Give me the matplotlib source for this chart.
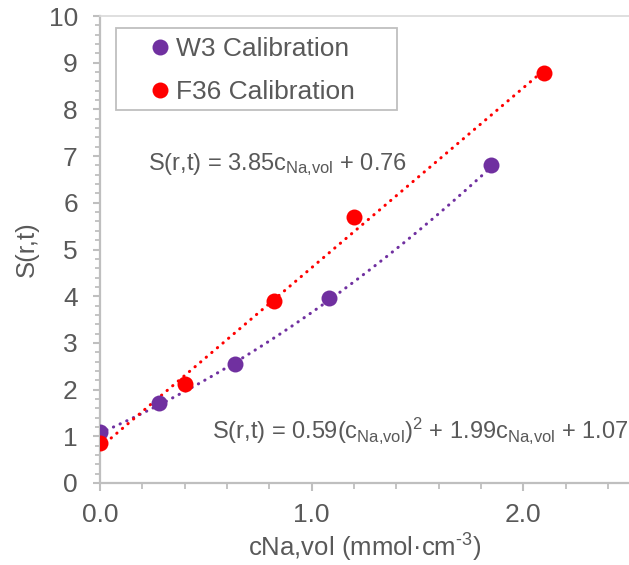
import matplotlib
matplotlib.use("Agg")
import matplotlib.pyplot as plt
import numpy as np
from matplotlib.ticker import MultipleLocator, FormatStrFormatter
from matplotlib.patches import Rectangle

plt.rcParams['font.family'] = ['Liberation Sans', 'DejaVu Sans']
plt.rcParams['mathtext.fontset'] = 'custom'
plt.rcParams['mathtext.rm'] = 'Liberation Sans'
plt.rcParams['mathtext.it'] = 'Liberation Sans:italic'
plt.rcParams['mathtext.bf'] = 'Liberation Sans:bold'

# Data
w3_x = [0.0, 0.28, 0.64, 1.08, 1.85]
w3_y = [1.09, 1.72, 2.54, 3.97, 6.80]
f36_x = [0.0, 0.40, 0.82, 1.20, 2.10]
f36_y = [0.86, 2.11, 3.89, 5.69, 8.77]
w3_fit = [0.59, 1.99, 1.07]   # quadratic coefficients
f36_fit = [3.85, 0.76]        # linear coefficients
labels = ["W3 Calibration", "F36 Calibration"]

purple = "#7030A0"
red = "#FF0000"
gray = "#595959"
spine = "#BFBFBF"

W, H = 629, 565
fig = plt.figure(figsize=(6.29, 5.65), dpi=100)
ax = fig.add_axes([100/W, 1-483/H, 529/W, (483-16)/H])

xs_w = np.linspace(min(w3_x), max(w3_x), 200)
xs_f = np.linspace(min(f36_x), max(f36_x), 200)
ax.plot(xs_w, np.polyval(w3_fit, xs_w), color=purple, lw=2.2,
        linestyle=(0, (0.1, 2.3)), dash_capstyle='round', zorder=2)
ax.plot(xs_f, np.polyval(f36_fit, xs_f), color=red, lw=2.2,
        linestyle=(0, (0.1, 2.3)), dash_capstyle='round', zorder=2)
ax.plot(w3_x, w3_y, 'o', color=purple, ms=11.5, mec='none', label=labels[0], zorder=3)
ax.plot(f36_x, f36_y, 'o', color=red, ms=11.5, mec='none', label=labels[1], zorder=3)

ax.set_xlim(0, 2.5)
ax.set_ylim(0, 10)
ax.xaxis.set_major_locator(MultipleLocator(1.0))
ax.xaxis.set_minor_locator(MultipleLocator(0.2))
ax.yaxis.set_major_locator(MultipleLocator(1))
ax.yaxis.set_minor_locator(MultipleLocator(0.2))
ax.xaxis.set_major_formatter(FormatStrFormatter('%.1f'))

for s in ['left', 'bottom']:
    ax.spines[s].set_color(spine)
    ax.spines[s].set_linewidth(1.6)
ax.spines['top'].set_color('#D9D9D9')
ax.spines['top'].set_linewidth(1.2)
ax.spines['right'].set_visible(False)

ax.tick_params(axis='both', which='major', colors=spine, labelcolor=gray,
               labelsize=19, width=1.5)
ax.tick_params(axis='y', which='major', length=5, pad=11)
ax.tick_params(axis='y', which='minor', length=3.5, width=1.3, colors=spine)
ax.tick_params(axis='x', which='major', length=6, pad=8.5)
ax.tick_params(axis='x', which='minor', length=4.5, width=1.3, colors=spine)

ax.set_xlabel(r'cNa,vol (mmol·cm$^{\mathrm{\text{-}3}}$)', fontsize=18.5, color=gray, labelpad=3)
ax.set_ylabel('S(r,t)', fontsize=18.5, color=gray, labelpad=7)

ax.text(148/W, 1-165/H, r'S(r,t) = 3.85c$_{\mathrm{Na{,}vol}}$ + 0.76',
        transform=fig.transFigure, fontsize=17, color=gray, va='center', ha='left')
ax.text(212/W, 1-430/H,
        r'S(r,t) = 0.59(c$_{\mathrm{Na{,}vol}}$)$^{\mathrm{2}}$ + 1.99c$_{\mathrm{Na{,}vol}}$ + 1.07',
        transform=fig.transFigure, fontsize=17, color=gray, va='center', ha='left')

# legend frame
ax.add_patch(Rectangle((116/W, 1-110/H), (397-116)/W, (110-28)/H,
                       transform=fig.transFigure, fill=True, facecolor='white',
                       edgecolor=spine, lw=1.3, zorder=4, clip_on=False))
leg = ax.legend(loc='upper left', bbox_to_anchor=(150/W, 1-37/H),
                bbox_transform=fig.transFigure, fontsize=19, frameon=False,
                handlelength=0.75, handletextpad=0.25, borderpad=0.0,
                labelspacing=0.72, borderaxespad=0)
leg.set_zorder(5)
for t in leg.get_texts():
    t.set_color(gray)

fig.savefig("out.png", dpi=100)
